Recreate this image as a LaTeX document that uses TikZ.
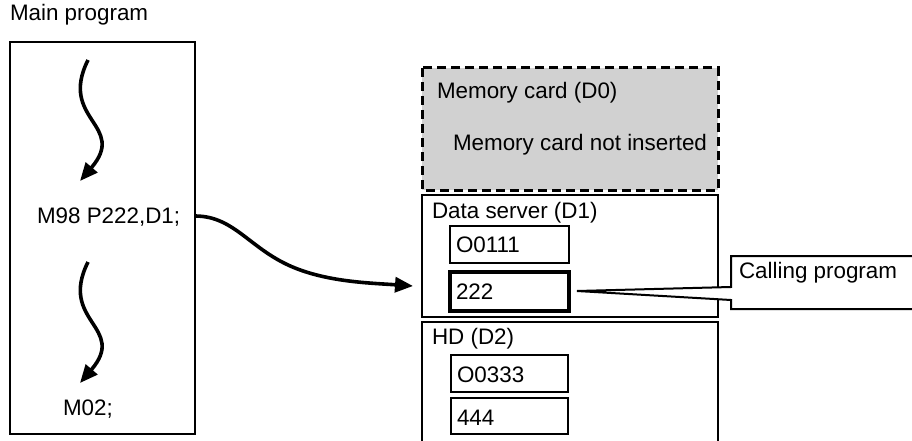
\documentclass[tikz,border=0pt]{standalone}
\usepackage{fontspec}
\setmainfont{Liberation Sans}
\usetikzlibrary{arrows.meta,calc}
\definecolor{cardgray}{RGB}{209,209,209}
\begin{document}
\begin{tikzpicture}[x=1pt,y=-1pt,
  every node/.style={font=\fontsize{22.4}{27}\selectfont, inner sep=0pt, outer sep=0pt},
  txt/.style={anchor=base west},
  frame/.style={draw, line width=2pt},
  prog/.style={draw, line width=2pt},
  progsel/.style={draw, line width=4pt},
  flow/.style={line width=3.6pt, -{Triangle[length=18pt,width=15pt]}},
]
\useasboundingbox (0,0) rectangle (912,441);

% main program
\node[txt] (title) at (10,21) {Main program};
\draw[frame] (10,42) rectangle (195,434);
\node[txt] (m98) at (37,223) {M98 P222,D1;};
\node[txt] (m02) at (63,415) {M02;};
\coordinate (w1s) at (88,60);
\coordinate (w1e) at (80,181);
\coordinate (w2s) at (88,262);
\coordinate (w2e) at (80,383);
\draw[flow] (w1s) .. controls (58,120) and (128,125) .. (w1e);
\draw[flow] (w2s) .. controls (58,322) and (128,327) .. (w2e);

% memory card
\draw[fill=cardgray, line width=3pt, dash pattern=on 9pt off 5pt] (422,68) rectangle (718,190);
\node[txt] (mc) at (437,99) {Memory card (D0)};
\node[txt] (mcn) at (453,150) {Memory card not inserted};

% data server
\draw[frame] (422,195) rectangle (718,317);
\node[txt] (ds) at (432,218) {Data server (D1)};
\draw[prog] (450,226) rectangle (569,263);
\node[txt] (p111) at (456,252) {O0111};
\draw[progsel] (450,272) rectangle (569,311);
\node[txt] (p222) at (456,299) {222};

% HD
\draw[frame] (422,445) -- (422,322) -- (718,322) -- (718,445);
\node[txt] (hd) at (432,344) {HD (D2)};
\draw[prog] (451,355) rectangle (568,392);
\node[txt] (p333) at (457,382) {O0333};
\draw[prog] (451,398) rectangle (568,434);
\node[txt] (p444) at (457,425) {444};

% call arrow
\coordinate (cs) at (195,216);
\coordinate (ce) at (413,286);
\draw[flow] (cs) .. controls (235,216) and (250,250) .. (295,268)
  .. controls (330,282) and (370,283) .. (ce);

% callout
\draw[fill=white, line width=2pt, line join=miter]
  (916,256) -- (731,256) -- (731,287) -- (577,291) -- (731,300) -- (731,309) -- (916,309);
\node[txt] (call) at (739,278) {Calling program};
\end{tikzpicture}
\end{document}
